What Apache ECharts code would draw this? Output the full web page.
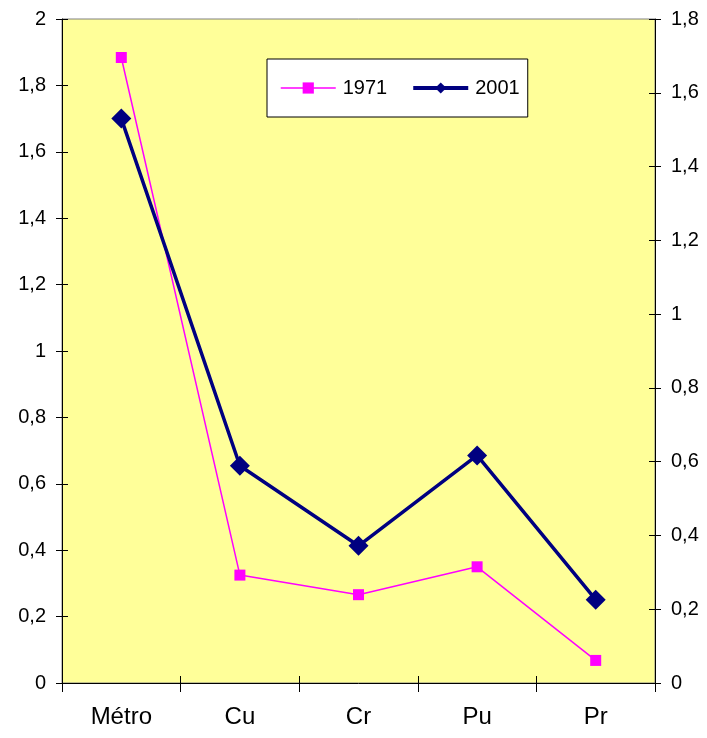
<!DOCTYPE html>
<html><head><meta charset="utf-8">
<script src="https://cdn.jsdelivr.net/npm/echarts@6/dist/echarts.min.js"></script>
<style>html,body{margin:0;padding:0;background:#fff}#c{width:707px;height:738px}</style>
</head><body><div id="c"></div>
<script>
const categories = ['Métro', 'Cu', 'Cr', 'Pu', 'Pr'];
const series1971 = [1.884, 0.325, 0.266, 0.350, 0.068];   // left axis
const series2001 = [1.530, 0.589, 0.372, 0.617, 0.226];   // right axis
const seriesNames = ['1971', '2001'];

const fmt = v => String(Math.round(v * 10) / 10).replace('.', ',');
const font = 'Liberation Sans, Arial, sans-serif';
const legendLineWidths = [1.5, 4];

function valAxis(pos, max, inside) {
  return {
    type: 'value', min: 0, max: max, interval: 0.2, position: pos,
    axisLine: {show: !inside, lineStyle: {color: '#000'}},
    axisTick: {show: true, inside: inside, length: 6, lineStyle: {color: '#000'}},
    splitLine: {show: false},
    axisLabel: inside ? {show: false} :
      {fontFamily: font, fontSize: 20, color: '#000', margin: 16, formatter: fmt}
  };
}
function catAxis(inside) {
  return {
    type: 'category', data: categories, boundaryGap: true, position: 'bottom',
    axisLine: {show: !inside, lineStyle: {color: '#000', width: 1}},
    axisTick: {show: true, inside: inside, alignWithLabel: false, length: inside ? 7 : 9, lineStyle: {color: '#000'}},
    axisLabel: inside ? {show: false} :
      {fontFamily: font, fontSize: 24, color: '#000', margin: 22}
  };
}

const chart = echarts.init(document.getElementById('c'), null, {renderer: 'canvas'});
chart.setOption({
  animation: false,
  backgroundColor: '#ffffff',
  grid: {left: 62, right: 52, top: 19, bottom: 55, show: true, backgroundColor: '#FFFF99',
         borderWidth: 1, borderColor: '#808080'},
  legend: {
    data: seriesNames.map((n, i) => ({name: n, lineStyle: {width: legendLineWidths[i]}})),
    left: 267, top: 59,
    padding: [19, 8, 19, 13],
    itemGap: 24,
    itemWidth: 55, itemHeight: 14,
    backgroundColor: '#ffffff', borderColor: '#000', borderWidth: 1,
    textStyle: {fontFamily: font, fontSize: 20, color: '#000', padding: [0, 0, 0, 2]}
  },
  xAxis: [catAxis(false), catAxis(true)],
  yAxis: [valAxis('left', 2, false), valAxis('right', 1.8, false),
          valAxis('left', 2, true), valAxis('right', 1.8, true)],
  series: [
    {name: seriesNames[0], type: 'line', yAxisIndex: 0, data: series1971,
     symbol: 'rect', symbolSize: 11,
     lineStyle: {color: '#FF00FF', width: 1.5},
     itemStyle: {color: '#FF00FF'}},
    {name: seriesNames[1], type: 'line', yAxisIndex: 1, data: series2001,
     symbol: 'diamond', symbolSize: 20,
     lineStyle: {color: '#000080', width: 3.5},
     itemStyle: {color: '#000080'}}
  ]
});
</script></body></html>
